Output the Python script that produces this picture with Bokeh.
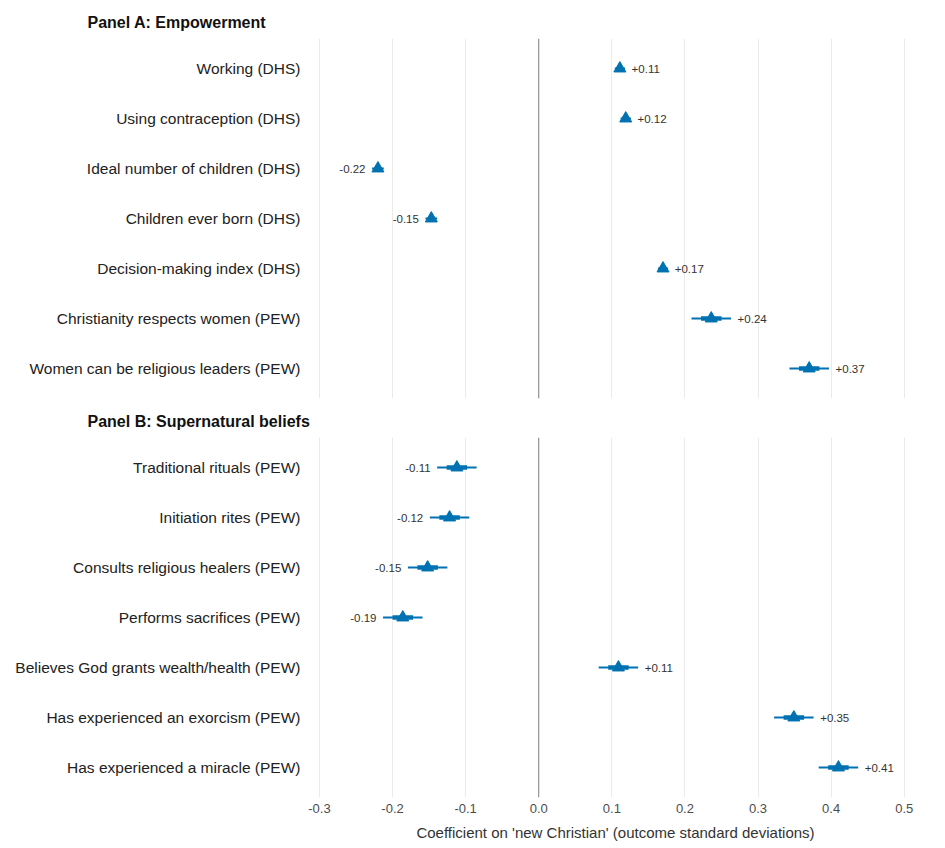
from bokeh.plotting import figure
from bokeh.layouts import column
from bokeh.models import ColumnDataSource, Span, FactorRange, Range1d, FixedTicker
from bokeh.core.properties import value
from bokeh.embed import file_html
from bokeh.resources import INLINE

# ---- data ----
cats_a = ["Working (DHS)", "Using contraception (DHS)", "Ideal number of children (DHS)",
          "Children ever born (DHS)", "Decision-making index (DHS)",
          "Christianity respects women (PEW)", "Women can be religious leaders (PEW)"]
est_a = [0.111, 0.119, -0.220, -0.147, 0.170, 0.236, 0.370]
lo95_a = [0.104, 0.112, -0.228, -0.155, 0.163, 0.209, 0.343]
hi95_a = [0.118, 0.126, -0.212, -0.139, 0.177, 0.263, 0.397]
lo68_a = [0.107, 0.115, -0.224, -0.151, 0.166, 0.222, 0.356]
hi68_a = [0.115, 0.123, -0.216, -0.143, 0.174, 0.250, 0.384]
lab_a = ["+0.11", "+0.12", "-0.22", "-0.15", "+0.17", "+0.24", "+0.37"]

cats_b = ["Traditional rituals (PEW)", "Initiation rites (PEW)", "Consults religious healers (PEW)",
          "Performs sacrifices (PEW)", "Believes God grants wealth/health (PEW)",
          "Has experienced an exorcism (PEW)", "Has experienced a miracle (PEW)"]
est_b = [-0.112, -0.122, -0.152, -0.186, 0.109, 0.349, 0.410]
lo95_b = [-0.139, -0.149, -0.179, -0.213, 0.082, 0.322, 0.383]
hi95_b = [-0.085, -0.095, -0.125, -0.159, 0.136, 0.376, 0.437]
lo68_b = [-0.126, -0.136, -0.166, -0.200, 0.095, 0.335, 0.396]
hi68_b = [-0.098, -0.108, -0.138, -0.172, 0.123, 0.363, 0.424]
lab_b = ["-0.11", "-0.12", "-0.15", "-0.19", "+0.11", "+0.35", "+0.41"]

x_ticks = [-0.3, -0.2, -0.1, 0.0, 0.1, 0.2, 0.3, 0.4, 0.5]
x_tick_labels = ["-0.3", "-0.2", "-0.1", "0.0", "0.1", "0.2", "0.3", "0.4", "0.5"]
x_title = "Coefficient on 'new Christian' (outcome standard deviations)"

BLUE = "#0072B2"
FONT = "Liberation Sans"
GAP = 0.009


def make_panel(title, cats, est, lo95, hi95, lo68, hi68, labs, bottom):
    p = figure(
        y_range=FactorRange(factors=list(reversed(cats)), range_padding=0.1,
                            range_padding_units="absolute"),
        x_range=Range1d(-0.315, 0.525),
        frame_width=614, frame_height=360,
        min_border_left=308, min_border_right=23,
        min_border_top=38 if not bottom else 37,
        min_border_bottom=52 if bottom else 2,
        output_backend="svg", toolbar_location=None,
        background_fill_color="white", border_fill_color="white",
    )
    p.outline_line_color = None

    src = ColumnDataSource(dict(cat=cats, est=est, lo95=lo95, hi95=hi95,
                                lo68=lo68, hi68=hi68, lab=labs))
    p.segment(x0="lo95", x1="hi95", y0="cat", y1="cat", source=src,
              line_color=BLUE, line_width=2)
    p.segment(x0="lo68", x1="hi68", y0="cat", y1="cat", source=src,
              line_color=BLUE, line_width=4.5)
    p.scatter(x="est", y="cat", source=src, marker="triangle", size=12,
              fill_color=BLUE, line_color=BLUE)

    pos = [i for i, e in enumerate(est) if e >= 0]
    neg = [i for i, e in enumerate(est) if e < 0]
    sp = ColumnDataSource(dict(x=[hi95[i] + GAP for i in pos], y=[cats[i] for i in pos],
                               t=[labs[i] for i in pos]))
    sn = ColumnDataSource(dict(x=[lo95[i] - GAP for i in neg], y=[cats[i] for i in neg],
                               t=[labs[i] for i in neg]))
    for s, al in ((sp, "left"), (sn, "right")):
        p.text(x="x", y="y", text="t", source=s, text_align=al, text_baseline="middle",
               text_font_size="11.5px", text_color="#333333", text_font=value(FONT))

    p.add_layout(Span(location=0, dimension="height", line_color="#808080", line_width=1))

    p.ygrid.visible = False
    p.xgrid.ticker = FixedTicker(ticks=x_ticks)
    p.xgrid.grid_line_color = "#ebebeb"
    p.xgrid.grid_line_width = 1

    ya = p.yaxis[0]
    ya.axis_line_color = None
    ya.major_tick_line_color = None
    ya.minor_tick_line_color = None
    ya.major_tick_out = 0
    ya.major_tick_in = 0
    ya.major_label_text_font = FONT
    ya.major_label_text_font_size = "15.5px"
    ya.major_label_text_color = "#222222"
    ya.major_label_standoff = 8

    xa = p.xaxis[0]
    xa.ticker = FixedTicker(ticks=x_ticks)
    xa.major_label_overrides = {t: l for t, l in zip(x_ticks, x_tick_labels)}
    xa.axis_line_color = None
    xa.major_tick_line_color = None
    xa.minor_tick_line_color = None
    xa.major_tick_out = 0
    xa.major_tick_in = 0
    if bottom:
        xa.major_label_text_font = FONT
        xa.major_label_text_font_size = "13px"
        xa.major_label_text_color = "#4d4d4d"
        xa.major_label_standoff = 6
        xa.axis_label = x_title
        xa.axis_label_text_font = FONT
        xa.axis_label_text_font_size = "15px"
        xa.axis_label_text_font_style = "normal"
        xa.axis_label_text_color = "#333333"
        xa.axis_label_standoff = 8
    else:
        xa.visible = False

    p.title.text = title
    p.title.text_font = FONT
    p.title.text_font_size = "16px"
    p.title.text_font_style = "bold"
    p.title.text_color = "#111111"
    p.title.align = "left"
    p.title.offset = -221
    p.title.standoff = 15
    return p


pa = make_panel("Panel A: Empowerment", cats_a, est_a, lo95_a, hi95_a, lo68_a, hi68_a, lab_a, False)
pb = make_panel("Panel B: Supernatural beliefs", cats_b, est_b, lo95_b, hi95_b, lo68_b, hi68_b, lab_b, True)

layout = column(pa, pb, spacing=0)
open("out.html", "w").write(file_html(layout, INLINE))
